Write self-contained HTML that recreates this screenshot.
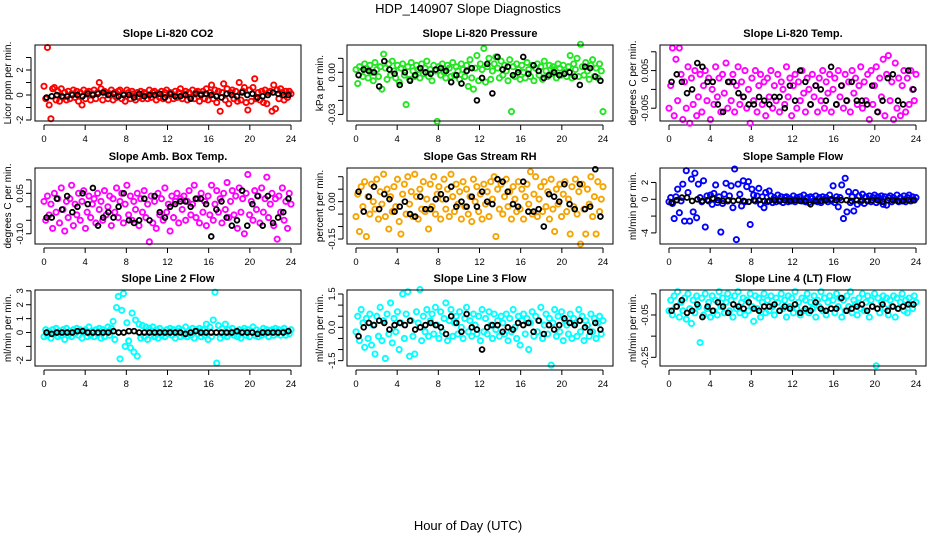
<!DOCTYPE html>
<html><head><meta charset="utf-8">
<style>
html,body{margin:0;padding:0;background:#fff;}
svg{display:block;font-family:"Liberation Sans",sans-serif;}
</style></head>
<body>
<svg id="chart" width="936" height="540" viewBox="0 0 936 540">
<rect width="936" height="540" fill="#fff"/>
<text x="468" y="13" font-size="13" text-anchor="middle">HDP_140907  Slope Diagnostics</text>
<text x="468" y="530" font-size="13" text-anchor="middle">Hour of Day (UTC)</text>
</svg>
<script>
const hourTicks = [0,4,8,12,16,20,24];

const co2Vals = [0.7,-0.3,3.8,-0.8,-1.9,0.5,0.6,-0.4,0.3,-0.5,0.5,-0.2,0.2,-0.4,0.3,-0.3,0.1,0.4,-0.2,0.3,-0.5,0.2,-0.8,0.4,-0.3,0.2,0.3,-0.4,0.1,0.4,-0.3,0.2,1.0,0.5,-0.4,0.3,0.2,-0.3,0.1,0.4,-0.4,0.2,-0.2,0.3,0.4,-0.3,0.1,-0.5,0.4,0.2,-0.3,0.3,0.1,-0.4,0.2,-0.2,0.3,-0.3,0.2,0.1,-0.3,0.4,-0.2,0.2,0.3,-0.4,0.1,-0.2,0.3,-0.3,0.2,0.4,-0.4,0.2,0.1,-0.3,0.3,-0.2,0.2,0.5,-0.3,0.1,0.3,-0.4,0.2,-0.2,0.4,-0.3,0.2,0.3,-0.5,0.1,0.3,-0.3,0.5,-0.4,0.2,0.8,-0.3,0.4,-0.6,0.3,-1.3,0.2,0.9,-0.4,0.5,-0.7,0.2,0.4,-0.3,0.3,-0.5,1.0,-0.4,0.3,0.6,-0.6,-1.2,0.4,-0.5,0.6,1.3,-0.3,0.2,-0.4,0.3,-0.6,0.4,-0.7,0.2,0.3,-1.3,0.8,-1.1,0.4,-0.3,0.5,0.2,-0.4,0.3,-0.2,0.3,0.1];
const co2Mean = [-0.2,-0.1,0,-0.1,-0.1,0,0,-0.1,0.1,0,0.1,0.2,0,0.1,-0.1,0,0,-0.2,0.1,-0.1,0,0,0.1,-0.2,0.1,-0.1,-0.1,0,-0.3,0.1,0,0.1,0,-0.1,-0.2,0.1,0,-0.1,0.2,0,0.1,-0.2,-0.1,0,0.2,0.1,0,0];

const presVals = [0.002,-0.008,0.004,0.001,-0.003,0.006,0.003,-0.004,0.005,0.000,-0.006,0.007,0.002,-0.003,0.004,-0.012,0.013,0.003,-0.005,0.006,-0.002,0.008,0.001,-0.004,0.005,-0.007,0.003,0.006,-0.002,-0.023,0.004,-0.005,0.007,0.001,-0.003,0.005,0.002,-0.004,0.006,-0.001,0.003,0.008,-0.003,0.002,-0.006,0.005,0.001,-0.035,0.004,-0.002,0.006,0.000,-0.004,0.005,0.003,-0.003,0.007,-0.002,0.004,0.001,-0.005,0.006,0.002,-0.003,0.005,-0.010,0.009,-0.004,-0.012,0.003,0.012,-0.006,0.006,0.002,0.017,-0.007,0.004,0.010,-0.005,0.001,0.006,0.011,0.003,-0.004,0.008,-0.002,0.005,0.001,-0.006,0.009,-0.028,0.004,-0.003,0.006,0.002,-0.005,0.005,0.000,-0.004,0.007,0.002,-0.003,0.005,-0.006,0.003,0.006,-0.002,0.004,-0.005,0.008,0.001,-0.003,0.005,-0.001,0.004,0.002,-0.004,0.006,0.003,-0.002,0.005,0.000,-0.003,0.004,0.012,-0.004,0.006,0.002,0.010,-0.003,0.020,0.004,-0.002,0.007,0.001,-0.005,0.005,0.009,-0.003,0.003,-0.004,0.006,0.001,-0.028];
const presMean = [-0.002,0.002,0.001,0.000,-0.010,0.008,0.002,-0.001,-0.009,0.000,-0.006,-0.002,0.003,0.000,-0.001,0.002,0.003,0.001,-0.007,-0.002,-0.008,0.001,0.003,-0.020,-0.004,0.006,-0.015,0.011,0.002,0.004,-0.002,0.000,0.011,-0.001,0.005,0.001,-0.004,-0.002,0.000,-0.002,-0.001,0.000,-0.003,-0.009,0.004,0.003,-0.003,-0.006];

const tempVals = [-0.005,0.001,0.011,-0.007,0.008,-0.003,0.011,0.004,-0.008,0.002,-0.005,0.006,-0.009,0.003,-0.004,0.005,-0.007,-0.002,0.004,-0.006,0.001,0.005,-0.003,0.003,-0.008,0.000,-0.004,0.006,-0.002,0.003,-0.006,0.004,-0.001,0.007,-0.005,0.002,-0.003,0.004,-0.006,0.001,0.006,-0.004,0.002,-0.002,0.005,-0.005,0.000,-0.009,0.003,-0.003,0.005,-0.006,0.001,0.004,-0.004,0.002,-0.007,0.003,-0.002,0.005,-0.005,0.001,-0.003,0.004,-0.006,0.002,0.000,-0.004,0.006,-0.002,0.003,-0.007,0.001,0.004,-0.005,0.002,-0.003,0.005,-0.001,-0.006,0.003,0.000,-0.004,0.004,-0.002,0.001,-0.006,0.003,-0.003,0.005,-0.005,0.002,-0.001,0.004,-0.006,0.000,0.003,-0.004,0.005,-0.002,0.001,-0.005,0.004,-0.003,0.002,-0.006,0.005,-0.001,0.003,-0.004,0.001,0.006,-0.005,0.002,-0.003,0.004,-0.008,0.005,-0.004,0.001,0.006,-0.006,0.003,-0.002,0.008,-0.007,0.004,0.009,-0.003,0.002,-0.008,0.007,-0.005,0.003,-0.007,0.001,0.005,-0.006,0.003,-0.004,0.005,0.000,-0.003,0.004];
const tempMean = [0.002,0.004,0.002,-0.001,0.000,0.007,0.006,0.002,0.002,-0.004,-0.006,0.002,0.002,-0.001,-0.002,-0.004,-0.004,-0.002,-0.003,-0.004,-0.002,-0.002,-0.005,0.001,-0.003,0.005,0.002,-0.004,0.001,0.000,-0.003,0.006,-0.004,0.001,-0.003,0.002,-0.003,-0.003,-0.004,0.001,-0.006,-0.003,0.003,0.004,-0.003,-0.004,0.005,0.000];

const ambVals = [0.02,-0.05,0.04,-0.03,0.01,-0.08,0.05,-0.02,0.03,-0.06,0.07,-0.01,-0.09,0.02,-0.04,0.03,0.08,-0.07,0.01,-0.03,0.05,-0.05,0.02,0.06,-0.08,-0.02,0.04,-0.04,0.01,0.03,-0.06,0.05,-0.01,0.02,-0.05,0.06,-0.03,0.00,0.04,-0.07,0.03,-0.02,0.07,-0.04,0.02,0.05,-0.06,0.01,0.08,-0.03,0.04,-0.05,0.02,-0.01,0.05,-0.07,0.03,-0.02,0.06,-0.04,0.01,-0.13,0.04,-0.06,0.02,-0.08,0.05,-0.03,0.03,-0.05,0.07,-0.02,0.01,-0.09,0.04,-0.04,0.02,0.05,-0.06,0.03,-0.01,0.04,-0.05,0.02,0.06,-0.03,0.01,0.08,-0.04,0.03,-0.06,0.05,-0.02,0.02,-0.07,0.04,-0.03,0.08,-0.05,0.01,0.06,-0.02,0.03,-0.06,0.05,-0.01,0.09,-0.04,0.02,0.06,-0.03,0.04,-0.08,0.07,-0.02,0.03,-0.10,0.05,0.12,-0.03,0.02,-0.05,0.06,-0.01,0.04,-0.06,0.07,-0.02,0.03,0.11,-0.04,0.01,0.05,-0.07,0.03,-0.12,0.04,-0.02,0.07,-0.05,0.02,-0.08,0.05,0.01];
const ambMean = [-0.04,-0.04,0.03,-0.01,0.04,-0.02,0.00,0.05,0.01,0.07,-0.07,-0.04,-0.02,-0.04,0.00,0.05,-0.05,-0.06,-0.05,0.03,-0.05,0.04,-0.02,-0.04,0.00,0.01,0.02,0.02,0.00,0.03,0.03,0.01,-0.11,-0.01,0.02,-0.04,-0.07,-0.05,0.06,-0.07,0.01,0.04,-0.07,0.04,-0.06,-0.04,-0.02,0.03];

const rhVals = [-0.06,0.03,-0.12,0.06,-0.02,0.08,-0.14,0.02,-0.05,0.07,0.00,-0.03,0.09,-0.07,0.04,-0.01,0.11,-0.06,0.05,-0.11,0.02,-0.04,0.06,-0.02,0.09,-0.08,-0.13,0.03,0.07,-0.05,0.10,-0.01,0.04,-0.06,0.11,0.02,-0.07,0.05,-0.03,0.08,-0.04,0.01,-0.11,0.07,-0.02,0.10,-0.05,0.03,0.06,-0.07,0.01,0.09,-0.03,0.05,-0.06,0.11,0.02,-0.04,0.07,-0.01,0.04,-0.07,0.08,-0.02,0.05,-0.05,0.02,-0.08,0.09,0.00,0.06,-0.04,0.03,-0.07,0.07,-0.01,0.04,-0.06,0.08,0.01,0.10,-0.14,0.05,-0.03,0.07,-0.05,0.02,0.09,-0.02,0.04,-0.07,0.06,0.01,-0.04,0.08,-0.03,0.05,-0.07,0.02,0.07,-0.01,0.12,-0.05,0.03,0.10,-0.06,0.01,0.06,-0.04,0.08,-0.02,0.04,-0.07,0.09,-0.03,-0.12,0.05,-0.01,0.07,-0.06,0.03,0.08,-0.04,0.01,-0.13,0.06,-0.02,0.09,-0.05,0.04,-0.17,0.07,-0.03,-0.13,0.05,-0.01,0.10,-0.06,0.02,-0.13,0.08,-0.04,0.01,0.06];
const rhMean = [0.04,-0.04,0.02,0.06,-0.03,0.03,0.01,-0.04,-0.02,0.00,-0.05,-0.06,0.02,-0.03,-0.03,0.01,0.03,0.01,0.06,-0.02,0.00,-0.02,0.02,-0.02,0.04,0.00,-0.01,0.09,0.08,0.04,-0.01,-0.02,0.08,-0.04,-0.04,-0.03,-0.10,0.03,0.02,0.00,0.07,-0.01,-0.03,0.07,-0.03,-0.02,0.13,-0.06];

const sampleVals = [-0.3,0.2,-0.5,-2.3,0.3,1.2,-1.6,-0.2,1.8,-2.6,3.4,0.8,-2.6,2.4,-1.5,3.1,-2.2,1.8,0.2,-0.3,2.2,-3.3,0.4,-0.2,0.5,-0.6,0.7,1.7,-0.4,0.3,-3.9,-0.5,0.6,1.9,-0.2,0.4,1.6,-1.0,3.6,-4.8,1.8,0.6,-0.8,2.2,-0.3,1.5,2.1,-3.0,1.2,0.5,-0.2,0.4,1.3,-0.6,0.3,-1.0,0.8,-0.3,1.0,0.4,-0.4,0.2,-0.3,0.5,-0.2,0.3,-0.4,0.2,0.3,-0.3,0.1,-0.2,0.4,-0.3,0.2,-0.1,0.3,-0.2,0.5,-0.3,0.2,-0.4,0.3,0.1,-0.2,0.4,-0.3,0.2,-0.4,0.3,-0.1,0.2,-0.3,0.5,-0.2,1.6,-0.4,0.3,-0.9,0.2,1.7,-2.3,2.5,-1.5,0.9,-0.4,0.3,-1.4,0.8,-0.6,0.4,-0.3,0.6,-0.5,0.3,-0.2,0.4,-0.3,0.2,0.5,-0.4,0.3,-0.2,0.4,-0.6,0.3,-0.7,0.2,0.4,-0.3,0.2,-0.1,0.5,-0.3,0.2,-0.2,0.4,-0.3,0.2,0.5,-0.2,0.3,-0.1,0.2];
const sampleMean = [-0.4,-0.1,0.2,0.2,-0.2,0,-0.2,-0.1,0.1,-0.1,-0.2,-0.1,-0.2,-0.1,-0.2,-0.3,-0.1,-0.1,-0.2,-0.2,-0.1,-0.2,-0.1,-0.2,-0.1,-0.2,-0.2,-0.6,-0.2,-0.2,-0.1,0.0,-0.1,-0.1,-0.1,-0.2,-0.1,-0.1,-0.2,-0.1,-0.1,-0.3,-0.1,-0.1,-0.2,-0.2,-0.1,-0.1];

const line2Vals = [-0.3,0.2,-0.2,0.1,-0.4,0.2,-0.1,0.3,-0.3,0.1,-0.2,0.2,-0.5,0.3,-0.2,0.1,-0.3,0.2,-0.1,0.3,-0.2,0.2,-0.4,0.1,0.2,-0.3,0.4,-0.2,0.1,-0.3,0.2,-0.1,0.3,-0.4,0.2,-0.3,0.1,0.4,-0.2,0.3,0.8,-0.5,1.8,2.6,-1.9,1.6,2.8,-1.0,0.7,-0.6,-1.1,1.4,-1.4,0.9,-1.7,0.6,-0.4,0.5,-0.3,0.4,-0.5,0.3,-0.2,0.4,-0.3,0.2,-0.4,0.3,-0.2,0.1,-0.3,0.2,-0.1,0.3,-0.2,0.2,-0.4,0.1,0.3,-0.3,0.2,-0.2,0.4,-0.3,0.1,-0.2,0.3,-0.4,0.2,-0.1,0.3,-0.3,0.2,-0.2,0.6,-0.5,0.4,-0.3,0.9,2.9,-2.2,0.5,-0.4,0.3,-0.2,0.6,-0.3,0.2,-0.1,0.3,-0.2,0.1,-0.3,0.2,-0.4,0.1,0.3,-0.2,0.2,-0.3,0.1,0.4,-0.2,0.2,-0.3,0.1,-0.2,0.3,-0.1,0.2,-0.3,0.1,0.2,-0.2,0.3,-0.1,0.2,-0.2,0.1,0.3,-0.2,0.1,-0.1,0.2];
const line2Mean = [0,-0.1,0,0,0,0,0.1,0.1,0,0,0,0,0,0.1,0,0,0.1,0.1,0,0,0,0,0,0,0,0,0,-0.1,0,0.1,0,0,0,0,0,0,0,0.1,0,0,0,-0.1,0,0,0,0,0,0.1];

const line3Vals = [-0.2,0.5,-0.6,0.8,0.2,-0.9,0.4,-0.5,0.6,-0.8,0.1,-1.2,0.5,-0.4,0.9,-0.6,0.3,-1.4,0.6,-0.3,1.1,-0.7,0.4,-0.2,0.7,-1.0,0.2,1.5,-0.5,0.6,1.6,-1.3,0.3,-0.4,-1.2,0.7,0.2,1.7,-0.6,0.5,-0.2,0.8,-0.4,0.3,0.6,-0.3,0.9,0.1,-0.5,0.7,-0.2,0.4,1.1,-0.6,0.3,0.8,-0.4,0.2,0.5,-0.3,0.7,0.0,-0.5,0.4,0.9,-0.2,0.3,-0.4,0.6,0.1,-0.3,0.5,-0.6,0.8,-0.2,0.4,-0.3,0.7,0.1,-0.5,0.6,-0.1,0.3,-0.4,0.5,0.2,-0.3,0.6,-0.6,0.4,-0.2,0.8,0.0,-0.5,0.5,-0.8,0.3,0.6,-0.3,0.4,-1.0,0.2,0.7,-0.4,0.5,-0.2,0.3,0.9,-0.5,0.1,0.6,-0.3,0.4,-1.7,0.2,0.8,-0.4,0.5,-0.2,0.7,-0.6,0.3,0.1,-0.3,0.6,-0.5,0.4,0.2,-0.4,0.8,-0.2,0.5,-0.6,0.3,0.1,-0.4,0.6,-0.2,0.4,-0.5,0.2,0.5,-0.3,0.3];
const line3Mean = [-0.4,0.0,0.2,0.1,0.3,0.2,-0.1,0.1,0.2,0.1,0.3,-0.1,0.0,0.1,0.2,0.1,0.0,-0.3,0.5,0.2,-0.2,0.6,0.0,-0.1,-1.0,0.0,0.1,0.1,-0.2,0.0,-0.1,0.2,0.1,0.2,-0.2,0.3,-0.3,0.1,-0.1,0.1,0.4,0.2,0.1,0.3,0.0,-0.2,0.2,-0.1];

const line4Vals = [-0.03,0.02,-0.05,0.04,-0.01,0.06,-0.06,0.01,-0.03,0.03,-0.07,0.05,-0.02,-0.09,0.02,-0.04,0.04,-0.01,-0.18,0.03,-0.05,0.05,-0.02,0.01,-0.06,0.04,-0.03,0.02,-0.05,0.06,-0.01,0.03,-0.04,0.01,0.05,-0.03,0.02,-0.06,0.04,-0.02,0.06,-0.04,0.01,0.03,-0.05,0.02,-0.03,0.05,-0.01,-0.08,0.04,-0.02,0.03,-0.06,0.01,0.05,-0.04,0.02,-0.03,0.04,-0.01,-0.05,0.03,0.01,-0.03,0.05,-0.02,0.02,-0.06,0.04,-0.01,0.03,-0.04,0.06,-0.02,0.01,-0.05,0.03,-0.03,0.02,0.05,-0.04,0.01,-0.02,0.04,-0.06,0.02,-0.01,0.06,-0.03,0.03,-0.05,0.01,0.04,-0.02,0.02,-0.04,0.05,-0.01,0.03,-0.06,0.02,-0.03,0.04,-0.01,0.06,-0.04,0.02,0.00,-0.05,0.03,-0.02,0.05,-0.03,0.01,0.04,-0.06,0.02,-0.01,0.05,-0.29,0.03,-0.04,0.01,0.04,-0.02,0.03,-0.05,0.02,-0.01,0.04,-0.06,0.03,-0.02,0.01,0.05,-0.03,0.02,-0.04,0.03,0.00,-0.02,0.04,0.01];
const line4Mean = [-0.03,-0.01,0.02,-0.04,-0.03,0.00,-0.06,-0.01,-0.03,0.01,-0.01,-0.04,0.00,-0.01,-0.02,0.01,-0.02,-0.03,-0.01,-0.01,0.00,-0.03,-0.01,-0.02,0.00,-0.04,-0.02,-0.03,0.01,-0.02,-0.03,-0.02,-0.02,0.03,-0.03,-0.02,-0.01,0.00,-0.03,-0.01,-0.02,0.00,-0.03,-0.01,-0.02,-0.01,0.00,0.00];

const panelTitles = ["Slope Li-820 CO2","Slope Li-820 Pressure","Slope Li-820 Temp.","Slope Amb. Box Temp.","Slope Gas Stream RH","Slope Sample Flow","Slope Line 2 Flow","Slope Line 3 Flow","Slope Line 4 (LT) Flow"];
const yTitles = ["Licor ppm per min.","kPa per min.","degrees C per min.","degrees C per min.","percent per min.","ml/min per min.","ml/min per min.","ml/min per min.","ml/min per min."];
const yTicks = [[-2,-1,0,1,2,3],[0.01,0,-0.01,-0.02,-0.03],[0.01,0.005,0,-0.005],[0.1,0.05,0,-0.05,-0.1],[0.1,0.05,0,-0.05,-0.1,-0.15],[2,0,-2,-4],[3,2,1,0,-1,-2],[1.5,1,0.5,0,-0.5,-1,-1.5],[0.05,-0.05,-0.15,-0.25]];
const yTickLabels = [["-2","","0","","2",""],["","0.00","","","-0.03"],["","0.005","","-0.005"],["","0.05","","","-0.10"],["","","0.00","","","-0.15"],["2","0","","-4"],["3","2","1","0","","-2"],["1.5","","","0.0","","","-1.5"],["","-0.05","","-0.25"]];
const yLims = [[-2.08,4.0],[-0.0347,0.0195],[-0.0084,0.0118],[-0.138,0.144],[-0.170,0.135],[-5.32,3.72],[-2.41,3.06],[-1.74,1.68],[-0.291,0.068]];
const seriesVals = [co2Vals,presVals,tempVals,ambVals,rhVals,sampleVals,line2Vals,line3Vals,line4Vals];
const seriesMeans = [co2Mean,presMean,tempMean,ambMean,rhMean,sampleMean,line2Mean,line3Mean,line4Mean];
const colors = ["#ff0000","#22e622","#ff00ff","#ff00ff","#f5a300","#0000ff","#00ffff","#00ffff","#00ffff"];

const NS = "http://www.w3.org/2000/svg";
const svg = document.getElementById("chart");
function mk(tag, attrs, parent){
  const e = document.createElementNS(NS, tag);
  for (const k in attrs) e.setAttribute(k, attrs[k]);
  (parent||svg).appendChild(e);
  return e;
}
const colLeft = [35, 347, 660];
const rowTop = [45, 168, 290];
const W = 266, H = 76;

for (let p = 0; p < 9; p++) {
  const left = colLeft[p % 3], top = rowTop[Math.floor(p / 3)];
  const [ymin, ymax] = yLims[p];
  const xs = h => left + 9 + h * (247 / 24);
  const ys = v => top + (ymax - v) / (ymax - ymin) * H;
  const g = mk("g", {});
  
  

  const t = mk("text", {x: left + W / 2, y: top - 8, "font-size": 11, "font-weight": "bold", "text-anchor": "middle"}, g);
  t.textContent = panelTitles[p];
  
  

  const yt = mk("text", {x: 0, y: 0, "font-size": 10, "text-anchor": "middle", transform: `translate(${left - 24},${top + H / 2}) rotate(-90)`}, g);
  yt.textContent = yTitles[p];
  
  

  const xa = mk("g", {}, g);
  
  
  mk("line", {x1: xs(hourTicks[0]), x2: xs(hourTicks[hourTicks.length - 1]), y1: top + H + 4, y2: top + H + 4, stroke: "#000", "stroke-width": 1}, xa);
  hourTicks.forEach(h => {
    mk("line", {x1: xs(h), x2: xs(h), y1: top + H + 4, y2: top + H + 9, stroke: "#000", "stroke-width": 1}, xa);
    const tl = mk("text", {x: xs(h), y: top + H + 21, "font-size": 9.5, "text-anchor": "middle"}, xa);
    tl.textContent = String(h);
    
    
  });

  const ya = mk("g", {}, g);
  
  
  const tk = yTicks[p];
  mk("line", {x1: left - 4, x2: left - 4, y1: ys(Math.max(...tk)), y2: ys(Math.min(...tk)), stroke: "#000", "stroke-width": 1}, ya);
  tk.forEach((v, i) => {
    mk("line", {x1: left - 9, x2: left - 4, y1: ys(v), y2: ys(v), stroke: "#000", "stroke-width": 1}, ya);
    const lbl = yTickLabels[p][i];
    if (lbl) {
      const tl = mk("text", {x: 0, y: 0, "font-size": 9.5, "text-anchor": "middle", transform: `translate(${left - 12},${ys(v)}) rotate(-90)`}, ya);
      tl.textContent = lbl;
      
      
    }
  });

  const pts = mk("g", {fill: "none", stroke: colors[p], "stroke-width": 1.9}, g);
  
  
  const vals = seriesVals[p];
  vals.forEach((v, i) => {
    const c = mk("circle", {cx: xs(i * 24 / (vals.length - 1)), cy: ys(v), r: 2.6}, pts);
    
    
  });
  const mpts = mk("g", {fill: "none", stroke: "#000", "stroke-width": 1.8}, g);
  
  
  const mv = seriesMeans[p];
  mv.forEach((v, i) => {
    const c = mk("circle", {cx: xs((i + 0.5) * 24 / mv.length), cy: ys(v), r: 2.4}, mpts);
    
    
  });

  const box = mk("rect", {x: left, y: top, width: W, height: H, fill: "none", stroke: "#000", "stroke-width": 1}, g);
  
  
}
</script>
</body></html>
